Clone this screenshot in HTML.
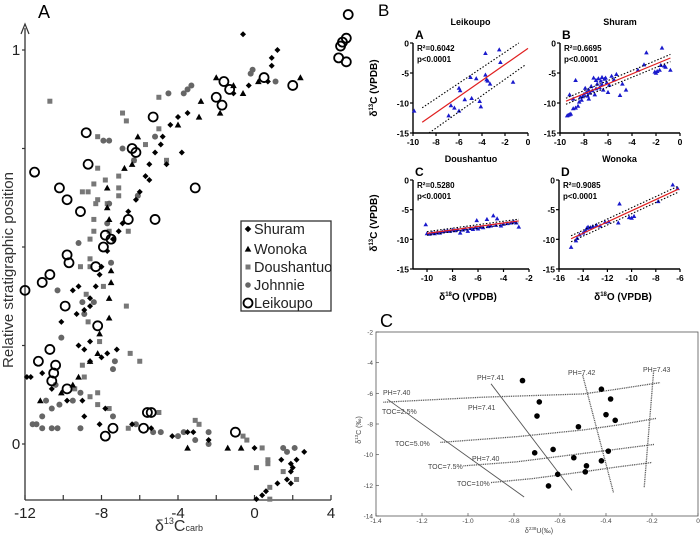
<!DOCTYPE html>
<html><head><meta charset="utf-8"><style>
html,body{margin:0;padding:0;background:#fff;}
svg{display:block;font-family:"Liberation Sans",Arial,sans-serif;}
</style></head><body>
<svg id="fig" width="700" height="537" viewBox="0 0 700 537" xmlns="http://www.w3.org/2000/svg"></svg>
<script>
// ---------- Panel A data: [delta13C, relative position] ----------
const shuramPts=[[-0.6,1.04],[1.2,1.0],[0.9,0.98],[0.9,0.96],[-4.0,0.83],[-3.5,0.84],[-4.4,0.81],[-4.8,0.78],[-4.9,0.76],[-5.2,0.74],[-5.5,0.71],[-5.7,0.68],[-6.0,0.64],[-6.2,0.62],[-6.6,0.59],[-6.9,0.56],[-7.1,0.54],[-7.4,0.52],[-7.7,0.49],[-8.0,0.45],[-8.1,0.43],[-8.3,0.40],[-8.6,0.37],[-8.9,0.34],[-4.6,0.71],[-3.8,0.74],[-5.5,0.67],[-11.9,0.17],[-11.7,0.17],[-9.5,0.39],[-9.2,0.40],[-10.1,0.31],[-9.3,0.33],[-8.6,0.35],[-9.2,0.25],[-8.9,0.24],[-8.6,0.26],[-7.2,0.24],[-7.7,0.23],[-8.0,0.22],[-8.6,0.21],[-11.1,0.18],[-10.6,0.14],[-9.8,0.11],[-9.0,0.11],[-7.8,0.09],[-8.1,0.05],[-8.9,0.07],[-6.4,0.05],[-5.4,0.04],[-4.3,0.02],[-3.5,0.03],[-3.2,0.03],[-2.4,0.01],[0.0,-0.01],[1.4,-0.04],[1.9,-0.05],[2.2,-0.04],[2.6,-0.02],[2.0,-0.06],[1.9,-0.07],[1.7,-0.09],[1.9,-0.10],[1.2,-0.10],[0.6,-0.12],[0.4,-0.13],[0.1,-0.14],[-1.1,0.89],[-0.3,0.91],[0.7,0.92]];
const wonokaPts=[[-2.0,0.93],[-1.1,0.91],[-0.6,0.89],[0.2,0.92],[2.4,0.93],[-2.8,0.87],[-2.9,0.83],[-4.0,0.81],[-1.8,0.84],[-6.1,0.78],[-6.8,0.70],[-6.4,0.71],[-7.7,0.65],[-7.7,0.60],[-7.6,0.57],[-7.5,0.44],[-7.5,0.41],[-7.6,0.37],[-7.6,0.32],[-8.1,0.28],[-8.6,0.21],[-8.2,0.23],[-9.2,0.17],[-9.5,0.15],[-10.1,0.13],[-11.2,0.11],[-3.5,-0.01],[-1.4,-0.01],[-0.7,-0.01]];
const doushantuoPts=[[-10.7,0.87],[-5.0,0.88],[-6.9,0.84],[-6.7,0.82],[-5.0,0.80],[-8.2,0.78],[-5.7,0.76],[-6.3,0.72],[-4.6,0.72],[-8.2,0.70],[-7.1,0.68],[-8.4,0.66],[-7.8,0.67],[-9.0,0.64],[-8.7,0.64],[-7.1,0.65],[-8.2,0.62],[-7.7,0.61],[-8.3,0.61],[-7.1,0.63],[-8.4,0.57],[-8.6,0.52],[-8.4,0.54],[-6.6,0.54],[-8.6,0.47],[-7.6,0.54],[-9.1,0.45],[-8.6,0.45],[-8.8,0.38],[-7.9,0.40],[-6.7,0.35],[-8.7,0.31],[-8.1,0.26],[-6.5,0.23],[-6.0,0.21],[-9.0,0.20],[-8.9,0.17],[-9.4,0.14],[-8.6,0.12],[-8.2,0.13],[-8.2,0.10],[-7.6,0.09],[-5.0,0.08],[-3.1,0.06],[-2.9,0.05],[-6.6,0.04],[-0.6,0.02],[-0.4,0.01],[0.4,-0.01],[0.7,-0.04],[0.7,-0.05],[0.1,-0.06],[2.2,-0.09],[0.8,-0.11],[0.8,-0.14],[1.5,-0.07]];
const johnniePts=[[-4.5,0.89],[-3.7,0.89],[-3.5,0.90],[-3.3,0.91],[-0.1,0.95],[-0.2,0.94],[1.1,0.92],[-7.9,0.77],[-7.6,0.77],[-5.2,0.78],[-6.9,0.75],[-6.3,0.72],[-6.1,0.63],[-7.6,0.61],[-7.7,0.56],[-9.2,0.51],[-7.5,0.46],[-10.3,0.39],[-10.1,0.27],[-9.0,0.36],[-8.4,0.36],[-8.9,0.33],[-7.3,0.21],[-7.4,0.19],[-10.4,0.15],[-10.9,0.11],[-10.2,0.10],[-10.6,0.09],[-9.5,0.11],[-9.1,0.13],[-11.1,0.07],[-11.6,0.05],[-11.4,0.05],[-11.1,0.04],[-10.6,0.04],[-10.3,0.04],[-9.1,0.04],[-7.4,0.07],[-6.2,0.05],[-5.3,0.03],[-4.9,0.03],[-4.0,0.02],[-3.7,0.03],[-3.1,0.01],[-2.4,0.03],[-2.4,0.00],[1.5,-0.01],[1.7,-0.02],[2.1,-0.01]];
const leikoupoPts=[[4.9,1.09],[4.5,1.01],[4.6,1.02],[4.8,1.03],[4.4,0.98],[4.8,0.97],[0.5,0.93],[2.0,0.91],[-1.6,0.92],[-1.3,0.90],[-2.0,0.88],[-1.7,0.86],[-5.3,0.83],[-8.8,0.79],[-6.4,0.75],[-6.2,0.74],[-8.7,0.71],[-11.5,0.69],[-10.2,0.65],[-3.1,0.65],[-9.8,0.62],[-9.1,0.59],[-6.6,0.57],[-5.2,0.57],[-7.8,0.53],[-7.5,0.52],[-7.9,0.50],[-9.8,0.48],[-9.7,0.46],[-8.3,0.45],[-10.7,0.43],[-11.1,0.41],[-12.0,0.39],[-9.9,0.35],[-8.2,0.30],[-10.7,0.24],[-11.3,0.21],[-10.4,0.20],[-10.5,0.18],[-10.6,0.16],[-9.8,0.14],[-5.6,0.08],[-5.4,0.08],[-5.8,0.04],[-7.4,0.04],[-7.8,0.02],[-1.0,0.03]];
const aXTicks=[-12,-8,-4,0,4];
const aYTicks=[0,0.25,0.5,0.75,1];
const aYTickLabels=["0","","","","1"];
const legendNames=["Shuram","Wonoka","Doushantuo","Johnnie","Leikoupo"];

// ---------- Panel B data: [delta18O, delta13C] ----------
const leikoupoB=[[-9.9,-11.3],[-3.7,-1.7],[-2.5,-1.1],[-2.4,-3.2],[-5.0,-5.7],[-4.5,-5.9],[-3.7,-5.3],[-3.6,-6.1],[-3.5,-6.3],[-3.3,-6.8],[-1.3,-6.5],[-6.0,-7.5],[-5.9,-7.9],[-5.5,-9.4],[-4.9,-9.2],[-4.2,-9.7],[-4.1,-10.6],[-6.7,-10.4],[-6.4,-10.8],[-6.0,-11.3],[-6.9,-12.1]];
const shuramB=[[-9.3,-12],[-9.2,-11.9],[-9.4,-12.1],[-9.1,-11.8],[-9.2,-8.6],[-8.9,-10.9],[-8.7,-10.8],[-8.5,-10.5],[-8.7,-6.2],[-8.4,-9.8],[-8.3,-9.0],[-8.2,-9.5],[-8.0,-8.5],[-8.1,-8.9],[-7.9,-7.5],[-7.8,-8.2],[-7.7,-8.8],[-7.6,-7.8],[-7.5,-8.3],[-7.4,-7.2],[-7.3,-7.9],[-7.2,-5.8],[-7.1,-8.6],[-7.0,-6.2],[-7.0,-7.6],[-6.9,-6.8],[-6.8,-5.9],[-6.7,-7.4],[-6.6,-6.3],[-6.5,-5.7],[-6.5,-6.9],[-6.4,-7.8],[-6.3,-6.0],[-6.2,-5.8],[-6.1,-6.6],[-6.0,-8.2],[-5.9,-7.0],[-5.7,-5.5],[-5.5,-6.1],[-5.3,-5.2],[-5.0,-8.7],[-4.8,-6.8],[-4.5,-7.8],[-3.5,-4.5],[-3.0,-3.6],[-2.8,-1.6],[-2.1,-4.8],[-2.0,-5.0],[-1.9,-4.7],[-1.7,-4.5],[-1.6,-3.7],[-1.5,-0.8],[-1.3,-3.8],[-1.2,-4.0],[-0.8,-4.5],[-7.6,-9.3],[-8.9,-9.3]];
const doushantuoB=[[-10.1,-7.5],[-10,-9.0],[-9.8,-9.1],[-9.6,-8.9],[-9.4,-9.0],[-9.2,-8.8],[-9.0,-8.9],[-8.8,-8.7],[-8.6,-8.6],[-8.4,-8.5],[-8.2,-8.6],[-8.0,-8.4],[-7.8,-8.5],[-7.6,-8.3],[-7.4,-8.9],[-7.2,-8.4],[-7.0,-8.2],[-6.8,-8.6],[-6.6,-8.1],[-6.4,-8.3],[-6.2,-8.0],[-6.1,-6.8],[-6.0,-8.2],[-5.8,-7.9],[-5.6,-8.0],[-5.3,-6.6],[-5.2,-7.8],[-5.0,-7.7],[-4.8,-6.0],[-4.6,-7.6],[-4.5,-6.5],[-4.2,-7.7],[-4.0,-7.4],[-3.7,-7.3],[-3.4,-7.2],[-3.2,-7.0],[-3.0,-7.2],[-2.8,-7.9]];
const wonokaB=[[-15,-11.3],[-14.6,-10.2],[-14.5,-9.8],[-14.3,-9.2],[-14,-8.9],[-13.8,-8.5],[-13.7,-8.1],[-13.6,-7.9],[-13.4,-8.0],[-13.2,-7.8],[-12.9,-7.6],[-12.6,-7.7],[-12.2,-7.1],[-11.9,-7.0],[-11.1,-7.2],[-11,-4.0],[-10.2,-6.3],[-10,-6.4],[-9.8,-6.1],[-7.8,-3.6],[-6.6,-0.8],[-6.2,-1.4]];
const fitLeikoupo=[-9.2,-13.2,0,-0.9]; const upLeikoupo=[-9.2,-10.8,-0.8,0]; const loLeikoupo=[-8.6,-15,-0.2,-3.6];
const fitShuram=[-9.5,-9.7,-0.8,-2.5]; const upShuram=[-9.5,-9.2,-0.8,-1.9]; const loShuram=[-9.5,-10.2,-0.8,-3.1];
const fitDoushantuo=[-10,-9.0,-2.8,-6.9]; const upDoushantuo=[-10,-8.7,-2.8,-6.6]; const loDoushantuo=[-10,-9.3,-2.8,-7.2];
const fitWonoka=[-15,-9.9,-6.1,-1.5]; const upWonoka=[-15,-9.4,-6.1,-1.0]; const loWonoka=[-15,-10.4,-6.1,-2.0];
const r2Labels=["R²=0.6042","R²=0.6695","R²=0.5280","R²=0.9085"];

// ---------- Panel C data ----------
const cPoints=[[-0.763,-5.17],[-0.69,-6.56],[-0.70,-7.48],[-0.52,-8.18],[-0.42,-5.73],[-0.38,-6.37],[-0.40,-7.39],[-0.36,-7.76],[-0.71,-9.88],[-0.63,-9.66],[-0.54,-10.2],[-0.485,-10.73],[-0.49,-11.12],[-0.42,-10.4],[-0.39,-9.77],[-0.61,-11.28],[-0.65,-12.04]];
const toc25=[[-1.368,-6.58],[-0.933,-6.25],[-0.50,-6.04],[-0.37,-5.77],[-0.165,-5.3]];
const toc50=[[-1.12,-9.2],[-0.79,-8.83],[-0.50,-8.39],[-0.35,-8.07],[-0.18,-7.63]];
const toc75=[[-1.02,-10.73],[-0.79,-10.47],[-0.50,-9.92],[-0.35,-9.64],[-0.19,-9.33]];
const toc10=[[-0.90,-11.82],[-0.72,-11.56],[-0.50,-11.12],[-0.35,-10.8],[-0.20,-10.51]];
const ph740=[[-1.35,-6.39],[-0.756,-12.76]];
const ph741=[[-0.90,-5.38],[-0.548,-12.33]];
const ph742=[[-0.502,-4.79],[-0.367,-12.5]];
const ph743=[[-0.193,-4.57],[-0.234,-12.17]];
const cXTicks=[-1.4,-1.2,-1.0,-0.8,-0.6,-0.4,-0.2,0];
const cXTickLabels=["-1.4","-1.2","-1.0","-0.8","-0.6","-0.4","-0.2","0"];
const cYTicks=[-2,-4,-6,-8,-10,-12,-14];

const NS="http://www.w3.org/2000/svg";
const svg=document.getElementById('fig');
function el(tag,attrs,parent,text){const e=document.createElementNS(NS,tag);for(const k in attrs)e.setAttribute(k,attrs[k]);if(text!==undefined)e.textContent=text;(parent||svg).appendChild(e);return e;}
function grp(name){const g=el('g',{});return g;}
function lin(d0,d1,r0,r1){return v=>r0+(v-d0)*(r1-r0)/(d1-d0);}

// ===== Panel A =====
const ax=lin(-12,4,25,331), ay=lin(0,1,444,50);
const gA=grp('panel-a');
const tA=el('text',{x:38,y:18,'font-size':18},gA,'A');
const axA=grp('panel-a-axes');gA.appendChild(axA);
el('line',{x1:25,y1:500,x2:25,y2:28,stroke:'#333','stroke-width':1.3},axA);
el('path',{d:'M21,34 L25,24 L29,34',fill:'none',stroke:'#333','stroke-width':1.2},axA);
el('line',{x1:25,y1:500,x2:331,y2:500,stroke:'#333','stroke-width':1.3},axA);
for(let v=-12;v<=4;v+=2){el('line',{x1:ax(v),y1:500,x2:ax(v),y2:495,stroke:'#333','stroke-width':1.2},axA);}
aXTicks.forEach(v=>{const t=el('text',{x:ax(v),y:518,'font-size':15,'text-anchor':'middle',fill:'#222'},axA,String(v));});
aYTicks.forEach((v,i)=>{el('line',{x1:22,y1:ay(v),x2:25,y2:ay(v),stroke:'#333','stroke-width':1.2},axA);if(aYTickLabels[i]){const t=el('text',{x:16,y:ay(v)+5,'font-size':15,'text-anchor':'middle',fill:'#222'},axA,aYTickLabels[i]);}});
const yt=el('text',{x:0,y:0,'font-size':15,'text-anchor':'middle',fill:'#333',transform:'translate(13,270) rotate(-90)'},axA,'Relative stratigraphic position');

const xt=el('text',{x:155,y:531,'font-size':16,fill:'#333'},axA);

xt.innerHTML='δ<tspan font-size="9" dy="-7">13</tspan><tspan dy="7">C</tspan><tspan font-size="9">carb</tspan>';
function diamond(g,x,y,s){el('path',{d:`M${x},${y-s} L${x+s},${y} L${x},${y+s} L${x-s},${y} Z`,fill:'#000'},g);}
function tri(g,x,y,s){el('path',{d:`M${x},${y-s} L${x+s},${y+s*0.8} L${x-s},${y+s*0.8} Z`,fill:'#000'},g);}
const gDo=grp('series-doushantuo');gA.appendChild(gDo);
doushantuoPts.forEach(p=>el('rect',{x:ax(p[0])-2.5,y:ay(p[1])-2.5,width:5,height:5,fill:'#777'},gDo));
const gJo=grp('series-johnnie');gA.appendChild(gJo);
johnniePts.forEach(p=>el('circle',{cx:ax(p[0]),cy:ay(p[1]),r:3,fill:'#666'},gJo));
const gWo=grp('series-wonoka');gA.appendChild(gWo);
wonokaPts.forEach(p=>tri(gWo,ax(p[0]),ay(p[1]),3.3));
const gSh=grp('series-shuram');gA.appendChild(gSh);
shuramPts.forEach(p=>diamond(gSh,ax(p[0]),ay(p[1]),3));
const gLe=grp('series-leikoupo');gA.appendChild(gLe);
leikoupoPts.forEach(p=>el('circle',{cx:ax(p[0]),cy:ay(p[1]),r:4.5,fill:'none',stroke:'#000','stroke-width':1.8},gLe));
const lg=grp('legend');gA.appendChild(lg);
el('rect',{x:241,y:221,width:90,height:90,fill:'#fff',stroke:'#333','stroke-width':1.3},lg);
const ly=[229,249,267,285,303];
legendNames.forEach((n,i)=>{const e=grp('legend-entry');lg.appendChild(e);const x=248,y=ly[i];
 if(i==0)diamond(e,x,y,3.3);if(i==1)tri(e,x,y,3.3);if(i==2)el('rect',{x:x-2.5,y:y-2.5,width:5,height:5,fill:'#777'},e);if(i==3)el('circle',{cx:x,cy:y,r:2.8,fill:'#666'},e);if(i==4)el('circle',{cx:x,cy:y,r:4.5,fill:'none',stroke:'#000','stroke-width':1.8},e);
 el('text',{x:254,y:y+5,'font-size':14.5,fill:'#222'},e,n);});

// ===== Panel B =====
const gB=grp('panel-b');
const bl=el('text',{x:378,y:16,'font-size':17},gB,'B');
const subs=[
 {name:'Leikoupo',L:'A',pts:leikoupoB,fit:fitLeikoupo,up:upLeikoupo,lo:loLeikoupo,x0:413,x1:528,dx:[-10,0],y0:43,y1:133,xt:[-10,-8,-6,-4,-2,0]},
 {name:'Shuram',L:'B',pts:shuramB,fit:fitShuram,up:upShuram,lo:loShuram,x0:560,x1:680,dx:[-10,0],y0:43,y1:133,xt:[-10,-8,-6,-4,-2,0]},
 {name:'Doushantuo',L:'C',pts:doushantuoB,fit:fitDoushantuo,up:upDoushantuo,lo:loDoushantuo,x0:413,x1:529,dx:[-11.1,-2],y0:180,y1:269,xt:[-10,-8,-6,-4,-2]},
 {name:'Wonoka',L:'D',pts:wonokaB,fit:fitWonoka,up:upWonoka,lo:loWonoka,x0:559,x1:680,dx:[-16,-6],y0:180,y1:269,xt:[-16,-14,-12,-10,-8,-6]}];
subs.forEach((s,i)=>{
 const g=grp('subplot-'+s.name.toLowerCase());gB.appendChild(g);
 const sx=lin(s.dx[0],s.dx[1],s.x0,s.x1), sy=lin(0,-15,s.y0,s.y1);
 const cx=(s.x0+s.x1)/2;
 el('text',{x:cx,y:s.y0-18,'font-size':9,'font-weight':'bold','text-anchor':'middle'},g,s.name);
 el('text',{x:s.x0+2,y:s.y0-4,'font-size':12,'font-weight':'bold'},g,s.L);
 el('line',{x1:s.x0,y1:s.y0,x2:s.x0,y2:s.y1,stroke:'#000','stroke-width':1.4},g);
 el('line',{x1:s.x0,y1:s.y1,x2:s.x1,y2:s.y1,stroke:'#000','stroke-width':1.4},g);
 [0,-5,-10,-15].forEach(v=>{el('line',{x1:s.x0-3,y1:sy(v),x2:s.x0,y2:sy(v),stroke:'#000','stroke-width':1.2},g);el('text',{x:s.x0-4,y:sy(v)+3.5,'font-size':8.5,'font-weight':'bold','text-anchor':'end'},g,String(v));});
 s.xt.forEach(v=>{el('line',{x1:sx(v),y1:s.y1,x2:sx(v),y2:s.y1+3,stroke:'#000','stroke-width':1.2},g);el('text',{x:sx(v),y:s.y1+12,'font-size':8.5,'font-weight':'bold','text-anchor':'middle'},g,String(v));});
 el('text',{x:s.x0+4,y:s.y0+8,'font-size':8,'font-weight':'bold'},g,r2Labels[i]);
 el('text',{x:s.x0+4,y:s.y0+19,'font-size':8,'font-weight':'bold'},g,'p<0.0001');
 s.pts.forEach(p=>{const x=sx(p[0]),y=sy(p[1]);el('path',{d:`M${x},${y-2.3} L${x+2.3},${y+1.8} L${x-2.3},${y+1.8} Z`,fill:'#1a1acc'},g);});
 [s.up,s.lo].forEach(b=>el('line',{x1:sx(b[0]),y1:sy(b[1]),x2:sx(b[2]),y2:sy(b[3]),stroke:'#000','stroke-width':1.1,'stroke-dasharray':'1.5,1.8'},g));
 el('line',{x1:sx(s.fit[0]),y1:sy(s.fit[1]),x2:sx(s.fit[2]),y2:sy(s.fit[3]),stroke:'#e02020','stroke-width':1.2},g);
});
[88,223].forEach(y=>{const t=el('text',{x:0,y:0,'font-size':10,'font-weight':'bold','text-anchor':'middle',transform:`translate(377,${y}) rotate(-90)`},gB);t.innerHTML='δ<tspan font-size="6" dy="-4">13</tspan><tspan dy="4">C (VPDB)</tspan>';});
[468,623].forEach(x=>{const t=el('text',{x:x,y:300,'font-size':10,'font-weight':'bold','text-anchor':'middle'},gB);t.innerHTML='δ<tspan font-size="6" dy="-4">18</tspan><tspan dy="4">O (VPDB)</tspan>';});

// ===== Panel C =====
const gC=grp('panel-c');
const cl=el('text',{x:380,y:327,'font-size':18},gC,'C');
const cxs=lin(-1.4,0,376,698), cys=lin(-2,-14,332,516);
el('rect',{x:376,y:332,width:322,height:184,fill:'none',stroke:'#555','stroke-width':0.8},gC);
cXTicks.forEach((v,i)=>{el('line',{x1:cxs(v),y1:516,x2:cxs(v),y2:513,stroke:'#555','stroke-width':0.7},gC);el('text',{x:cxs(v),y:523,'font-size':6.5,'text-anchor':'middle',fill:'#444'},gC,cXTickLabels[i]);});
cYTicks.forEach(v=>{el('line',{x1:376,y1:cys(v),x2:379,y2:cys(v),stroke:'#555','stroke-width':0.7},gC);el('text',{x:373,y:cys(v)+2.5,'font-size':6.5,'text-anchor':'end',fill:'#444'},gC,String(v));});
const cyl=el('text',{x:0,y:0,'font-size':7,'text-anchor':'middle',fill:'#444',transform:'translate(361,430) rotate(-90)'},gC);cyl.innerHTML='δ<tspan font-size="4.5" dy="-3">13</tspan><tspan dy="3">C (‰)</tspan>';
const cxl=el('text',{x:539,y:533,'font-size':7,'text-anchor':'middle',fill:'#444'},gC);cxl.innerHTML='δ<tspan font-size="4.5" dy="-3">238</tspan><tspan dy="3">U(‰)</tspan>';
function poly(arr,dash,name){const p=el('polyline',{points:arr.map(q=>cxs(q[0])+','+cys(q[1])).join(' '),fill:'none',stroke:'#555','stroke-width':dash?1.3:0.9,'stroke-dasharray':dash?'1,0.8':'none'},gC);}
poly(toc25,true,'toc-2.5-curve');poly(toc50,true,'toc-5.0-curve');poly(toc75,true,'toc-7.5-curve');poly(toc10,true,'toc-10-curve');
poly(ph740,false,'ph-7.40-line');poly(ph741,false,'ph-7.41-line');poly(ph742,true,'ph-7.42-line');poly(ph743,true,'ph-7.43-line');
const cLabels=[['PH=7.40',383,395],['TOC=2.5%',382,414],['PH=7.41',477,380],['PH=7.41',468,410],['TOC=5.0%',395,446],['PH=7.40',472,461],['TOC=7.5%',428,469],['TOC=10%',457,486],['PH=7.42',568,375],['PH=7.43',643,372]];
cLabels.forEach(l=>{const t=el('text',{x:l[1],y:l[2],'font-size':7,fill:'#444'},gC,l[0]);});
cPoints.forEach(p=>el('circle',{cx:cxs(p[0]),cy:cys(p[1]),r:2.8,fill:'#000'},gC));
</script>
</body></html>
